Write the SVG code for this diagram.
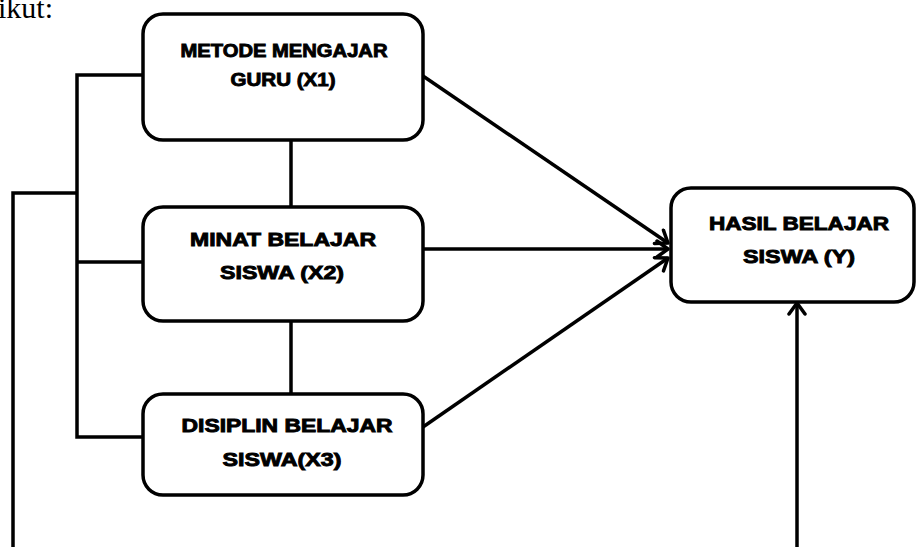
<svg xmlns="http://www.w3.org/2000/svg" width="916" height="547" viewBox="0 0 916 547">
<style>
.box{fill:#fff;stroke:#000;stroke-width:3.5}
.ln{fill:none;stroke:#000;stroke-width:3.5}
.t{font-family:"Liberation Sans",Arial,sans-serif;font-weight:bold;font-size:18.5px;fill:#000;stroke:#000;stroke-width:0.9;text-anchor:middle}
.cap{font-family:"Liberation Serif","Times New Roman",serif;font-size:30px;fill:#000}
</style>
<defs>
<marker id="ah" markerUnits="userSpaceOnUse" markerWidth="20" markerHeight="20" viewBox="0 0 20 20" refX="17" refY="10" orient="auto">
<path d="M6,2 L17,10 L6,18" fill="none" stroke="#000" stroke-width="3.5" stroke-linecap="round" stroke-linejoin="round"/>
</marker>
</defs>
<rect width="916" height="547" fill="#fff"/>
<text class="cap" x="53" y="18" text-anchor="end">ikut:</text>
<g id="connectors">
<path class="ln" d="M143,75 H77 V437 H143"/>
<path class="ln" d="M77,262 H143"/>
<path class="ln" d="M13,547 V193 H77"/>
<path class="ln" d="M291,140 V207"/>
<path class="ln" d="M291,321 V394"/>
<path class="ln" d="M423,76 L668,243" marker-end="url(#ah)"/>
<path class="ln" d="M423,249 L668,249" marker-end="url(#ah)"/>
<path class="ln" d="M423,427 L668,258" marker-end="url(#ah)"/>
<path class="ln" d="M797,547 V303" marker-end="url(#ah)"/>
</g>
<g id="x1">
<rect class="box" x="143" y="14" width="280" height="126" rx="20"/>
<text class="t" x="284" y="57" textLength="207" lengthAdjust="spacingAndGlyphs">METODE MENGAJAR</text>
<text class="t" x="283" y="86" textLength="105" lengthAdjust="spacingAndGlyphs">GURU (X1)</text>
</g>
<g id="x2">
<rect class="box" x="143" y="207" width="280" height="114" rx="20"/>
<text class="t" x="283" y="246" textLength="186" lengthAdjust="spacingAndGlyphs">MINAT BELAJAR</text>
<text class="t" x="282" y="279" textLength="124" lengthAdjust="spacingAndGlyphs">SISWA (X2)</text>
</g>
<g id="x3">
<rect class="box" x="143" y="394" width="280" height="101" rx="20"/>
<text class="t" x="287" y="432" textLength="211" lengthAdjust="spacingAndGlyphs">DISIPLIN BELAJAR</text>
<text class="t" x="282" y="466" textLength="119" lengthAdjust="spacingAndGlyphs">SISWA(X3)</text>
</g>
<g id="y">
<rect class="box" x="671" y="188" width="243" height="114" rx="20"/>
<text class="t" x="799" y="230" textLength="180" lengthAdjust="spacingAndGlyphs">HASIL BELAJAR</text>
<text class="t" x="799" y="263" textLength="112" lengthAdjust="spacingAndGlyphs">SISWA (Y)</text>
</g>
</svg>
